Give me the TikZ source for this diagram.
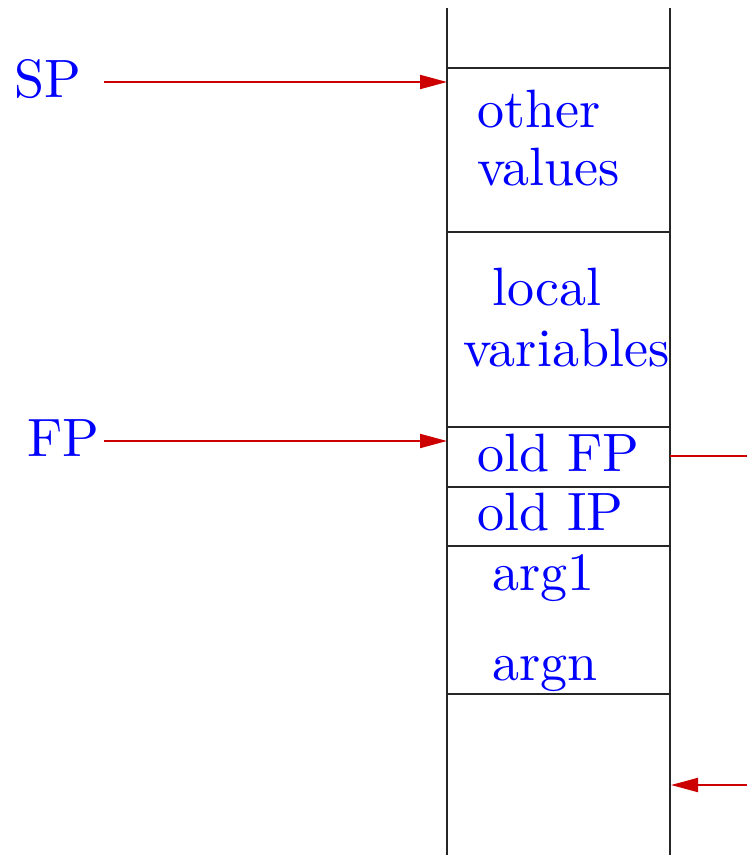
\documentclass[tikz,border=0pt]{standalone}
\usepackage{fontspec}
\newfontfamily\stackfont{lmroman10-regular.otf}
\usetikzlibrary{arrows.meta}
\definecolor{ptrred}{RGB}{204,0,0}
\begin{document}
\begin{tikzpicture}[x=0.5pt,y=-0.5pt,
    lbl/.style={text=blue,inner sep=0pt,font=\stackfont\fontsize{27}{32}\selectfont},
    cell/.style={line width=1pt,draw=black!85},
    ptr/.style={line width=1pt,draw=ptrred,-{Triangle[length=13.5pt,width=7pt,fill=ptrred]}}]
                \useasboundingbox (0,0) rectangle (747,855);
                % stack
                \draw[cell] (447,8) -- (447,855);
                \draw[cell] (670,8) -- (670,855);
                \foreach \y in {68,232,427,487,546,694}
                    \draw[cell] (447,\y) -- (670,\y);
                % contents
                \node[lbl,anchor=base west] (other) at (477,128) {other};
                \node[lbl,anchor=base west] (values) at (477,186) {values};
                \node[lbl,anchor=base west] (local) at (492,306) {local};
                \node[lbl,anchor=base west] (vars) at (463,366) {variables};
                \node[lbl,anchor=base west] (oldFP) at (477,471) {old FP};
                \node[lbl,anchor=base west] (oldIP) at (477,530) {old IP};
                \node[lbl,anchor=base west] (arg1) at (492,590) {arg1};
                \node[lbl,anchor=base west] (argn) at (492,680) {argn};
                % pointers
                \node[lbl,anchor=base west] (SP) at (14,98) {SP};
                \node[lbl,anchor=base east] (FP) at (100,456) {FP};
                \coordinate (spTail) at (104,82);
                \coordinate (spHead) at (447,82);
                \coordinate (fpTail) at (104,441);
                \coordinate (fpHead) at (447,441);
                \coordinate (linkL) at (670,456);
                \coordinate (linkR) at (747,456);
                \coordinate (retTail) at (747,785);
                \coordinate (retHead) at (671,785);
                \draw[ptr] (spTail) -- (spHead);
                \draw[ptr] (fpTail) -- (fpHead);
                \draw[ptr,-] (linkL) -- (linkR);
                \draw[ptr] (retTail) -- (retHead);
            \end{tikzpicture}
\end{document}
